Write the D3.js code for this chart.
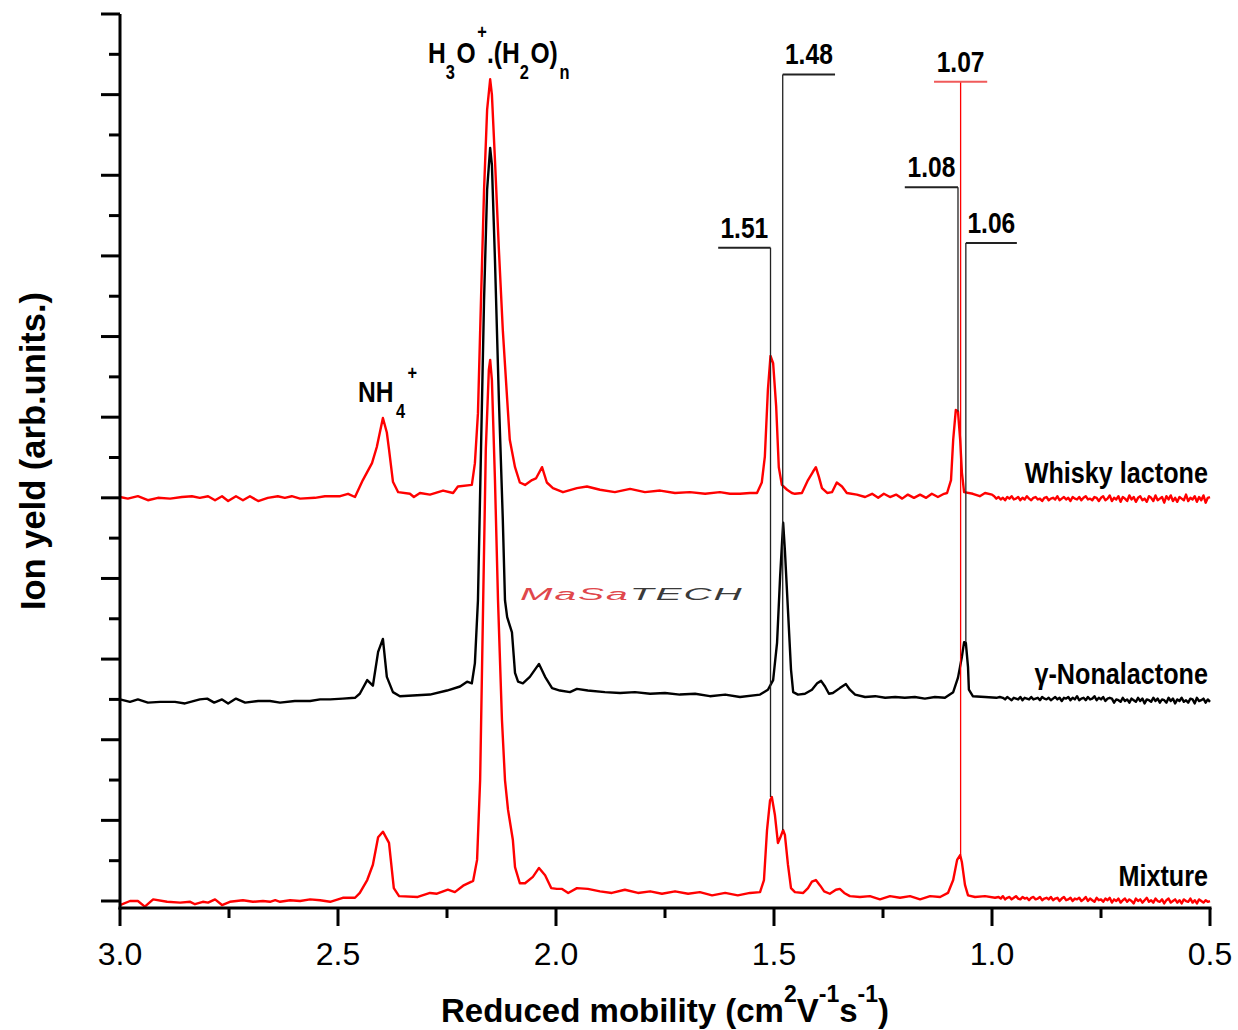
<!DOCTYPE html>
<html>
<head>
<meta charset="utf-8">
<script src="https://cdnjs.cloudflare.com/ajax/libs/d3/7.8.5/d3.min.js"></script>
<style>
  body { margin: 0; background: #fff; }
  svg { display: block; }
  text { font-family: "Liberation Sans", Arial, sans-serif; }
</style>
</head>
<body>
<svg width="1238" height="1030"></svg>
<script>
// reduced mobility (cm2/Vs) vs ion yield (arb. units), traces offset by hand
var whiskyLactone = [
  [3.000,5.01],[2.982,4.99],[2.959,5.02],[2.936,4.97],[2.913,5.00],[2.885,4.99],[2.858,5.01],[2.835,5.02],
  [2.817,5.00],[2.798,5.02],[2.782,4.97],[2.766,5.02],[2.752,4.96],[2.734,5.02],[2.718,4.97],[2.702,5.02],
  [2.683,4.96],[2.661,5.00],[2.638,5.02],[2.622,5.00],[2.606,5.02],[2.587,4.99],[2.553,5.00],[2.530,5.02],
  [2.495,5.02],[2.477,5.05],[2.461,5.01],[2.443,5.22],[2.422,5.43],[2.411,5.63],[2.397,5.99],[2.388,5.81],
  [2.383,5.60],[2.374,5.20],[2.362,5.07],[2.335,5.05],[2.326,5.01],[2.312,5.06],[2.289,5.04],[2.259,5.09],
  [2.236,5.06],[2.225,5.14],[2.193,5.16],[2.186,5.43],[2.179,6.05],[2.172,7.46],[2.165,8.82],[2.158,9.81],
  [2.151,10.19],[2.147,10.00],[2.140,9.19],[2.131,8.08],[2.122,7.08],[2.112,6.22],[2.106,5.72],[2.094,5.38],
  [2.083,5.19],[2.071,5.16],[2.055,5.22],[2.046,5.24],[2.032,5.38],[2.021,5.19],[2.007,5.12],[1.984,5.07],
  [1.952,5.12],[1.929,5.14],[1.899,5.10],[1.865,5.07],[1.830,5.11],[1.796,5.07],[1.761,5.09],[1.727,5.06],
  [1.693,5.07],[1.658,5.05],[1.624,5.07],[1.601,5.05],[1.578,5.05],[1.555,5.06],[1.539,5.06],[1.528,5.19],
  [1.521,5.51],[1.514,6.34],[1.508,6.76],[1.502,6.67],[1.495,6.13],[1.489,5.38],[1.482,5.16],[1.470,5.10],
  [1.459,5.06],[1.452,5.05],[1.436,5.06],[1.422,5.22],[1.411,5.32],[1.404,5.38],[1.397,5.26],[1.390,5.12],
  [1.378,5.06],[1.367,5.07],[1.356,5.19],[1.344,5.14],[1.333,5.06],[1.310,5.04],[1.291,5.01],[1.275,5.05],
  [1.261,5.00],[1.248,5.05],[1.234,5.01],[1.220,5.04],[1.206,4.99],[1.193,5.04],[1.179,5.00],[1.165,5.04],
  [1.151,5.00],[1.138,5.05],[1.124,5.01],[1.110,5.05],[1.103,5.06],[1.094,5.22],[1.089,5.72],[1.083,6.09],
  [1.078,6.07],[1.073,5.72],[1.069,5.31],[1.064,5.07],[1.044,5.05],[1.028,5.02],[1.016,5.06],[1.000,5.04],
  [0.995,5.02],[0.990,4.99],[0.985,5.01],[0.980,4.98],[0.975,5.00],[0.970,4.97],[0.965,5.01],[0.960,4.99],
  [0.955,5.02],[0.950,4.98],[0.945,4.99],[0.940,5.01],[0.935,4.97],[0.930,5.00],[0.925,4.98],[0.920,5.02],
  [0.915,4.99],[0.910,4.97],[0.905,5.00],[0.900,5.01],[0.895,4.98],[0.890,4.99],[0.885,4.96],[0.880,5.00],
  [0.875,5.01],[0.870,4.97],[0.865,4.99],[0.860,5.00],[0.855,4.98],[0.850,5.02],[0.845,4.97],[0.840,4.99],
  [0.835,5.01],[0.830,4.98],[0.825,5.00],[0.820,4.96],[0.815,5.01],[0.810,4.99],[0.805,4.98],[0.800,5.01],
  [0.795,4.97],[0.790,5.00],[0.785,5.02],[0.780,4.98],[0.775,4.99],[0.770,4.97],[0.765,5.01],[0.760,5.00],
  [0.755,4.96],[0.750,5.00],[0.745,5.02],[0.740,4.97],[0.735,4.99],[0.730,5.03],[0.725,4.96],[0.720,5.00],
  [0.715,4.98],[0.710,5.02],[0.705,4.95],[0.700,5.01],[0.695,4.99],[0.690,4.96],[0.685,5.03],[0.680,4.98],
  [0.675,5.01],[0.670,4.95],[0.665,5.00],[0.660,5.02],[0.655,4.97],[0.650,4.99],[0.645,4.95],[0.640,5.02],
  [0.635,5.00],[0.630,4.96],[0.625,5.03],[0.620,4.97],[0.615,4.99],[0.610,5.01],[0.605,4.94],[0.600,5.02],
  [0.595,4.98],[0.590,5.03],[0.585,4.96],[0.580,5.00],[0.575,4.95],[0.570,5.01],[0.565,4.99],[0.560,4.97],
  [0.555,5.04],[0.550,4.96],[0.545,5.00],[0.540,4.98],[0.535,5.02],[0.530,4.95],[0.525,5.01],[0.520,4.97],
  [0.515,5.03],[0.510,4.94],[0.505,5.00],[0.500,5.01]
];

var nonalactone = [
  [3.000,2.50],[2.977,2.47],[2.959,2.50],[2.936,2.46],[2.908,2.47],[2.874,2.47],[2.851,2.45],[2.817,2.50],
  [2.800,2.51],[2.784,2.46],[2.766,2.50],[2.752,2.45],[2.734,2.51],[2.713,2.46],[2.683,2.48],[2.656,2.48],
  [2.633,2.46],[2.599,2.48],[2.564,2.48],[2.541,2.50],[2.518,2.50],[2.489,2.51],[2.461,2.52],[2.450,2.57],
  [2.433,2.74],[2.420,2.67],[2.408,3.09],[2.397,3.25],[2.388,2.78],[2.374,2.59],[2.358,2.54],[2.289,2.56],
  [2.250,2.61],[2.220,2.66],[2.204,2.72],[2.193,2.70],[2.186,2.95],[2.179,3.73],[2.172,5.60],[2.165,7.46],
  [2.158,8.82],[2.151,9.34],[2.147,9.13],[2.140,7.95],[2.131,6.22],[2.122,4.73],[2.117,3.73],[2.112,3.52],
  [2.101,3.33],[2.094,2.83],[2.087,2.72],[2.076,2.70],[2.060,2.78],[2.039,2.94],[2.025,2.78],[2.009,2.64],
  [1.991,2.61],[1.968,2.59],[1.952,2.63],[1.927,2.61],[1.888,2.59],[1.853,2.58],[1.819,2.59],[1.784,2.57],
  [1.750,2.58],[1.716,2.56],[1.681,2.57],[1.647,2.54],[1.612,2.56],[1.578,2.53],[1.532,2.56],[1.514,2.62],
  [1.502,2.74],[1.493,3.20],[1.486,4.02],[1.479,4.69],[1.475,4.35],[1.468,3.61],[1.461,2.87],[1.456,2.59],
  [1.445,2.56],[1.429,2.57],[1.413,2.62],[1.401,2.70],[1.392,2.73],[1.383,2.66],[1.374,2.57],[1.365,2.58],
  [1.349,2.64],[1.335,2.69],[1.326,2.62],[1.314,2.56],[1.291,2.53],[1.268,2.54],[1.245,2.52],[1.222,2.53],
  [1.200,2.52],[1.177,2.53],[1.154,2.51],[1.131,2.53],[1.108,2.52],[1.089,2.59],[1.078,2.77],[1.069,3.03],
  [1.064,3.21],[1.060,3.20],[1.055,2.90],[1.053,2.62],[1.044,2.54],[1.016,2.53],[0.990,2.52],[0.982,2.53],
  [0.975,2.52],[0.970,2.50],[0.965,2.53],[0.960,2.51],[0.955,2.49],[0.950,2.52],[0.945,2.51],[0.940,2.50],
  [0.935,2.53],[0.930,2.49],[0.925,2.52],[0.920,2.51],[0.915,2.50],[0.910,2.53],[0.905,2.50],[0.900,2.51],
  [0.895,2.52],[0.890,2.49],[0.885,2.53],[0.880,2.51],[0.875,2.50],[0.870,2.52],[0.865,2.49],[0.860,2.51],
  [0.855,2.53],[0.850,2.50],[0.845,2.52],[0.840,2.48],[0.835,2.52],[0.830,2.51],[0.825,2.53],[0.820,2.49],
  [0.815,2.52],[0.810,2.50],[0.805,2.54],[0.800,2.49],[0.795,2.51],[0.790,2.52],[0.785,2.49],[0.780,2.53],
  [0.775,2.50],[0.770,2.51],[0.765,2.54],[0.760,2.49],[0.755,2.52],[0.750,2.50],[0.745,2.53],[0.740,2.48],
  [0.735,2.51],[0.730,2.52],[0.725,2.51],[0.720,2.46],[0.715,2.50],[0.710,2.49],[0.705,2.47],[0.700,2.52],
  [0.695,2.48],[0.690,2.50],[0.685,2.46],[0.680,2.51],[0.675,2.49],[0.670,2.47],[0.665,2.52],[0.660,2.48],
  [0.655,2.51],[0.650,2.45],[0.645,2.50],[0.640,2.49],[0.635,2.47],[0.630,2.52],[0.625,2.48],[0.620,2.51],
  [0.615,2.46],[0.610,2.50],[0.605,2.49],[0.600,2.46],[0.595,2.52],[0.590,2.48],[0.585,2.51],[0.580,2.45],
  [0.575,2.50],[0.570,2.48],[0.565,2.52],[0.560,2.47],[0.555,2.49],[0.550,2.46],[0.545,2.51],[0.540,2.50],
  [0.535,2.45],[0.530,2.52],[0.525,2.48],[0.520,2.49],[0.515,2.51],[0.510,2.46],[0.505,2.50],[0.500,2.47]
];

var mixture = [
  [3.000,-0.05],[2.977,0.00],[2.959,0.00],[2.943,-0.07],[2.924,0.02],[2.892,-0.01],[2.862,-0.02],[2.839,-0.01],
  [2.828,-0.04],[2.810,-0.01],[2.798,-0.02],[2.782,0.02],[2.766,-0.05],[2.748,-0.01],[2.718,0.01],[2.695,-0.01],
  [2.672,0.00],[2.656,-0.01],[2.644,0.01],[2.633,-0.01],[2.610,0.01],[2.587,0.00],[2.564,0.02],[2.541,0.01],
  [2.518,-0.01],[2.489,0.04],[2.461,0.04],[2.450,0.10],[2.433,0.26],[2.420,0.45],[2.408,0.79],[2.397,0.86],
  [2.383,0.72],[2.372,0.16],[2.360,0.06],[2.317,0.05],[2.289,0.10],[2.273,0.09],[2.248,0.14],[2.232,0.11],
  [2.213,0.19],[2.190,0.25],[2.181,0.51],[2.174,1.50],[2.167,3.73],[2.161,5.60],[2.154,6.59],[2.151,6.71],
  [2.147,6.46],[2.140,5.22],[2.133,3.73],[2.124,2.25],[2.117,1.50],[2.110,1.13],[2.099,0.76],[2.094,0.42],
  [2.083,0.22],[2.071,0.22],[2.053,0.30],[2.039,0.41],[2.025,0.32],[2.011,0.16],[1.998,0.15],[1.986,0.15],
  [1.972,0.10],[1.952,0.16],[1.927,0.15],[1.899,0.12],[1.872,0.10],[1.842,0.14],[1.812,0.10],[1.784,0.12],
  [1.757,0.09],[1.727,0.12],[1.697,0.09],[1.670,0.11],[1.642,0.07],[1.612,0.10],[1.583,0.07],[1.555,0.10],
  [1.532,0.11],[1.523,0.26],[1.516,0.88],[1.509,1.25],[1.505,1.29],[1.498,1.07],[1.491,0.72],[1.486,0.78],
  [1.479,0.88],[1.475,0.82],[1.468,0.45],[1.461,0.16],[1.452,0.11],[1.433,0.10],[1.422,0.16],[1.413,0.24],
  [1.404,0.26],[1.394,0.19],[1.385,0.12],[1.372,0.09],[1.358,0.14],[1.349,0.15],[1.339,0.10],[1.326,0.06],
  [1.303,0.05],[1.280,0.06],[1.257,0.02],[1.234,0.06],[1.211,0.04],[1.188,0.06],[1.165,0.02],[1.142,0.06],
  [1.119,0.05],[1.101,0.10],[1.089,0.26],[1.080,0.51],[1.073,0.57],[1.069,0.48],[1.062,0.20],[1.055,0.07],
  [1.039,0.05],[1.016,0.06],[0.993,0.04],
  [0.985,0.05],[0.980,0.03],[0.975,0.06],[0.970,0.02],[0.965,0.04],[0.960,0.05],[0.955,0.02],[0.950,0.04],
  [0.945,0.06],[0.940,0.03],[0.935,0.02],[0.930,0.05],[0.925,0.03],[0.920,0.04],[0.915,0.01],[0.910,0.04],
  [0.905,0.05],[0.900,0.02],[0.895,0.03],[0.890,0.05],[0.885,0.01],[0.880,0.03],[0.875,0.04],[0.870,0.02],
  [0.865,0.05],[0.860,0.01],[0.855,0.03],[0.850,0.04],[0.845,0.00],[0.840,0.03],[0.835,0.05],[0.830,0.01],
  [0.825,0.02],[0.820,0.04],[0.815,0.00],[0.810,0.03],[0.805,0.02],[0.800,0.04],[0.795,0.00],[0.790,0.02],
  [0.785,0.05],[0.780,0.00],[0.775,0.03],[0.770,0.01],[0.765,-0.01],[0.760,0.04],[0.755,0.01],[0.750,0.02],
  [0.745,-0.01],[0.740,0.03],[0.735,0.01],[0.730,0.04],[0.725,-0.02],[0.720,0.02],[0.715,0.00],[0.710,0.03],
  [0.705,-0.02],[0.700,0.01],[0.695,0.03],[0.690,-0.01],[0.685,0.02],[0.680,0.00],[0.675,-0.03],[0.670,0.03],
  [0.665,0.00],[0.660,0.02],[0.655,-0.02],[0.650,0.01],[0.645,0.04],[0.640,-0.01],[0.635,0.01],[0.630,-0.02],
  [0.625,0.03],[0.620,0.00],[0.615,-0.01],[0.610,0.02],[0.605,-0.03],[0.600,0.01],[0.595,0.03],[0.590,-0.02],
  [0.585,0.00],[0.580,0.02],[0.575,-0.02],[0.570,0.01],[0.565,-0.03],[0.560,0.02],[0.555,0.00],[0.550,-0.01],
  [0.545,0.03],[0.540,-0.02],[0.535,0.01],[0.530,-0.03],[0.525,0.02],[0.520,0.00],[0.515,-0.02],[0.510,0.01],
  [0.505,-0.01],[0.500,0.00]
];

var seriesNames = ["Whisky lactone", "\u03b3-Nonalactone", "Mixture"];
var seriesBase = [5.0, 2.5, 0.0];

var xMajorTicks = [3.0, 2.5, 2.0, 1.5, 1.0, 0.5];
var xMinorTicks = [2.75, 2.25, 1.75, 1.25, 0.75];
var xTickLabels = ["3.0", "2.5", "2.0", "1.5", "1.0", "0.5"];
var yMajorTicks = [0, 1, 2, 3, 4, 5, 6, 7, 8, 9, 10, 11];
var yMinorTicks = [0.5, 1.5, 2.5, 3.5, 4.5, 5.5, 6.5, 7.5, 8.5, 9.5, 10.5];

// peak markers: label, line position, top of line, end of line (at the peak), arm from / to
var markerLabels = ["1.51", "1.48", "1.08", "1.07", "1.06"];
var markerPos    = [1.508, 1.480, 1.078, 1.072, 1.060];
var markerTop    = [8.10, 10.25, 8.85, 10.16, 8.16];
var markerEnd    = [1.29, 0.88, 6.07, 0.57, 3.21];
var markerArmA   = [1.628, 1.480, 1.200, 1.133, 1.060];
var markerArmB   = [1.508, 1.360, 1.078, 1.011, 0.943];
var markerRed    = [false, false, false, true, false];

var svg = d3.select("svg"),
    width = +svg.attr("width"),
    height = +svg.attr("height");

var x = d3.scaleLinear().domain([3.0, 0.5]).range([120, 1210]);
var y = d3.scaleLinear().domain([-0.0868, 11]).range([908, 14]);

var line = d3.line()
    .x(function(d) { return x(d[0]); })
    .y(function(d) { return y(d[1]); });

// traces
var traces = [
  {data: whiskyLactone, color: "#ff0000"},
  {data: nonalactone, color: "#000000"},
  {data: mixture, color: "#ff0000"}
];

svg.append("g").selectAll("path")
    .data(traces)
    .enter()
    .append("path")
    .attr("d", function(d) { return line(d.data); })
    .attr("fill", "none")
    .attr("stroke", function(d) { return d.color; })
    .attr("stroke-width", 2.4)
    .attr("stroke-linejoin", "round");

// watermark
var wm = svg.append("text")
    .attr("transform", "translate(520,600) scale(1.95,0.8)")
    .attr("font-family", "Inter, 'Liberation Sans', sans-serif")
    .attr("font-size", 20)
    .attr("font-style", "italic")
    .attr("font-weight", 200)
    .attr("letter-spacing", 1);
wm.append("tspan").attr("fill", "#e0474c").text("MaSa");
wm.append("tspan").attr("fill", "#3a3a3a").text("TECH");

// peak marker lines
var mk = svg.append("g").selectAll("g")
    .data(markerLabels)
    .enter()
    .append("g");

mk.append("line")
    .attr("x1", function(d, i) { return x(markerPos[i]); })
    .attr("x2", function(d, i) { return x(markerPos[i]); })
    .attr("y1", function(d, i) { return y(markerTop[i]); })
    .attr("y2", function(d, i) { return y(markerEnd[i]); })
    .attr("stroke", function(d, i) { return markerRed[i] ? "#ff0000" : "#222"; })
    .attr("stroke-width", 1.3);

mk.append("line")
    .attr("x1", function(d, i) { return x(markerArmA[i]); })
    .attr("x2", function(d, i) { return x(markerArmB[i]); })
    .attr("y1", function(d, i) { return y(markerTop[i]); })
    .attr("y2", function(d, i) { return y(markerTop[i]); })
    .attr("stroke", function(d, i) { return markerRed[i] ? "#f05a5a" : "#222"; })
    .attr("stroke-width", 2);

mk.append("text")
    .attr("transform", function(d, i) {
      var cx = (x(markerArmA[i]) + x(markerArmB[i])) / 2;
      return "translate(" + cx + "," + (y(markerTop[i]) - 10) + ") scale(0.82,1)";
    })
    .attr("text-anchor", "middle")
    .attr("font-size", 30)
    .attr("font-weight", "bold")
    .attr("fill", "#000")
    .text(function(d) { return d; });

// series names
svg.append("g").selectAll("text")
    .data(seriesNames)
    .enter()
    .append("text")
    .attr("transform", function(d, i) {
      return "translate(1208," + (y(seriesBase[i]) - 15) + ") scale(0.84,1)";
    })
    .attr("text-anchor", "end")
    .attr("font-size", 30)
    .attr("font-weight", "bold")
    .text(function(d) { return d; });

// ion labels
var nh4 = svg.append("text")
    .attr("transform", "translate(358,402) scale(0.82,1)")
    .attr("font-size", 30)
    .attr("font-weight", "bold");
nh4.append("tspan").text("NH");
nh4.append("tspan").attr("font-size", 20).attr("dx", 3).attr("dy", 16).text("4");
nh4.append("tspan").attr("font-size", 20).attr("dx", 3).attr("dy", -38).text("+");

var h3o = svg.append("text")
    .attr("transform", "translate(428,63) scale(0.82,1)")
    .attr("font-size", 30)
    .attr("font-weight", "bold");
h3o.append("tspan").text("H");
h3o.append("tspan").attr("font-size", 20).attr("dy", 16).text("3");
h3o.append("tspan").attr("dx", 2).attr("dy", -16).text("O");
h3o.append("tspan").attr("font-size", 20).attr("dx", 2).attr("dy", -24).text("+");
h3o.append("tspan").attr("dy", 24).text(".(H");
h3o.append("tspan").attr("font-size", 20).attr("dy", 16).text("2");
h3o.append("tspan").attr("dx", 2).attr("dy", -16).text("O)");
h3o.append("tspan").attr("font-size", 20).attr("dx", 2).attr("dy", 16).text("n");

// axes
var ax = svg.append("g")
    .attr("stroke", "#000")
    .attr("stroke-width", 3)
    .attr("fill", "none");

ax.append("line").attr("x1", 120).attr("x2", 120).attr("y1", y.range()[0] + 1.5).attr("y2", y.range()[1]);
ax.append("line").attr("x1", x.range()[0] - 1.5).attr("x2", x.range()[1] + 1.5).attr("y1", 908).attr("y2", 908);

ax.selectAll(".xmaj").data(xMajorTicks).enter().append("line")
    .attr("x1", function(d) { return x(d); }).attr("x2", function(d) { return x(d); })
    .attr("y1", 908).attr("y2", 926);
ax.selectAll(".xmin").data(xMinorTicks).enter().append("line")
    .attr("x1", function(d) { return x(d); }).attr("x2", function(d) { return x(d); })
    .attr("y1", 908).attr("y2", 918);
ax.selectAll(".ymaj").data(yMajorTicks).enter().append("line")
    .attr("x1", 101).attr("x2", 120)
    .attr("y1", function(d) { return y(d); }).attr("y2", function(d) { return y(d); });
ax.selectAll(".ymin").data(yMinorTicks).enter().append("line")
    .attr("x1", 109).attr("x2", 120)
    .attr("y1", function(d) { return y(d); }).attr("y2", function(d) { return y(d); });

svg.append("g").selectAll("text")
    .data(xMajorTicks)
    .enter()
    .append("text")
    .attr("x", function(d) { return x(d); })
    .attr("y", 965)
    .attr("text-anchor", "middle")
    .attr("font-size", 32)
    .text(function(d, i) { return xTickLabels[i]; });

// axis titles
var xt = svg.append("text")
    .attr("x", 665)
    .attr("y", 1022)
    .attr("text-anchor", "middle")
    .attr("font-size", 33)
    .attr("font-weight", "bold");
xt.append("tspan").text("Reduced mobility (cm");
xt.append("tspan").attr("font-size", 23).attr("dy", -20).text("2");
xt.append("tspan").attr("dy", 20).text("V");
xt.append("tspan").attr("font-size", 23).attr("dy", -20).text("-1");
xt.append("tspan").attr("dy", 20).text("s");
xt.append("tspan").attr("font-size", 23).attr("dy", -20).text("-1");
xt.append("tspan").attr("dy", 20).text(")");

svg.append("text")
    .attr("transform", "translate(45,451) rotate(-90)")
    .attr("text-anchor", "middle")
    .attr("font-size", 34.5)
    .attr("font-weight", "bold")
    .text("Ion yeld (arb.units.)");
</script>
</body>
</html>
